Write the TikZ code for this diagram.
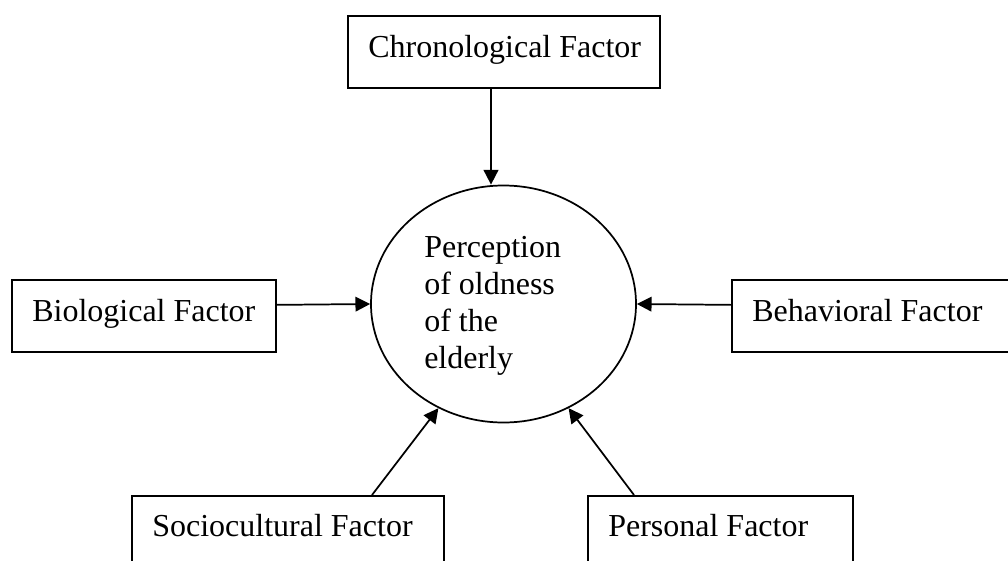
\documentclass[tikz,border=0pt]{standalone}
\usepackage{fontspec}
\setmainfont{Liberation Serif}
\usetikzlibrary{shapes.geometric,arrows.meta,calc}
\begin{document}
\begin{tikzpicture}[x=0.75pt,y=-0.75pt,
  box/.style={draw,line width=1.3pt,rectangle,anchor=north west,inner sep=0pt},
  lbl/.style={anchor=base west,inner sep=0pt,font=\fontsize{24}{28}\selectfont},
  arr/.style={line width=1.3pt,-{Triangle[length=11pt,width=11pt]}}]
\useasboundingbox (0,0) rectangle (1008,561);
\clip (0,0) rectangle (1008,561);
% boxes
\node[box,minimum width=234pt,minimum height=54pt] (chrono) at (347,15) {};
\node[box,minimum width=198pt,minimum height=54pt] (bio) at (11,279) {};
\node[box,minimum width=213pt,minimum height=54pt] (behav) at (731,279) {};
\node[box,minimum width=234pt,minimum height=62pt] (socio) at (131,495) {};
\node[box,minimum width=199pt,minimum height=62pt] (pers) at (587,495) {};
% centre ellipse
\node[draw,line width=1.3pt,ellipse,inner sep=0pt,minimum width=198.75pt,minimum height=177.75pt] (circ) at (503.5,304) {};
% texts
\node[lbl] (chronot) at (368,57) {Chronological Factor};
\node[lbl] (biot) at (32,321) {Biological Factor};
\node[lbl] (behavt) at (752,321) {Behavioral Factor};
\node[lbl] (sociot) at (152,536) {Sociocultural Factor};
\node[lbl] (perst) at (608,536) {Personal Factor};
\node[lbl,align=left,anchor=north west,font=\fontsize{24}{27.75}\selectfont] (circt) at (424,236) {Perception\\of oldness\\of the\\elderly};
% connectors
\coordinate (c1) at ($(chrono.south west)+(144,0)$);
\draw[arr] (c1) -- (c1 |- circ.north);
\coordinate (b1) at ($(bio.east)+(0,-11)$);
\draw[arr] (b1) -- (circ.west);
\coordinate (h1) at ($(behav.west)+(0,-11)$);
\draw[arr] (h1) -- (circ.east);
\coordinate (s1) at ($(socio.north west)+(241,0)$);
\draw[arr] (s1) -- (circ.238);
\coordinate (p1) at ($(pers.north west)+(47,0)$);
\draw[arr] (p1) -- (circ.302);
\end{tikzpicture}
\end{document}
